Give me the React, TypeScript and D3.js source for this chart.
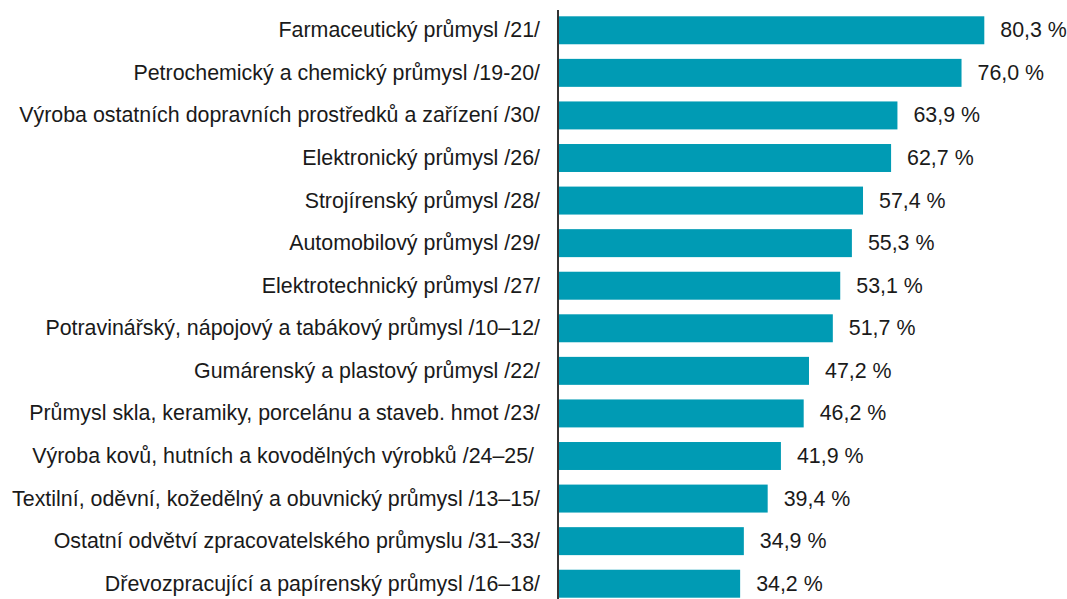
import React from "react";
import * as d3 from "d3";

const categories = [
  "Farmaceutický průmysl /21/",
  "Petrochemický a chemický průmysl /19-20/",
  "Výroba ostatních dopravních prostředků a zařízení /30/",
  "Elektronický průmysl /26/",
  "Strojírenský průmysl /28/",
  "Automobilový průmysl /29/",
  "Elektrotechnický průmysl /27/",
  "Potravinářský, nápojový a tabákový průmysl /10–12/",
  "Gumárenský a plastový průmysl /22/",
  "Průmysl skla, keramiky, porcelánu a staveb. hmot /23/",
  "Výroba kovů, hutních a kovodělných výrobků /24–25/ ",
  "Textilní, oděvní, kožedělný a obuvnický průmysl /13–15/",
  "Ostatní odvětví zpracovatelského průmyslu /31–33/",
  "Dřevozpracující a papírenský průmysl /16–18/",
];

const values = [80.3, 76.0, 63.9, 62.7, 57.4, 55.3, 53.1, 51.7, 47.2, 46.2, 41.9, 39.4, 34.9, 34.2];

const W = 1067;
const H = 599;

export default function App() {
  const x = d3.scaleLinear().domain([0, 80.3]).range([559, 984.3]);
  const y = d3
    .scaleBand<string>()
    .domain(categories)
    .range([9, 605])
    .paddingInner(0.343)
    .paddingOuter(0.1715);
  const fmt = (v: number) => d3.format(".1f")(v).replace(".", ",") + " %";
  return (
    <svg
      width={W}
      height={H}
      style={{ position: "absolute", left: 0, top: 0, background: "#fff" }}
      fontFamily="'Liberation Sans', Arial, sans-serif"
    >
      {categories.map((c, i) => {
        const yc = (y(c) as number) + y.bandwidth() / 2;
        return (
          <g key={c}>
            <rect
              x={x(0)}
              y={y(c)}
              width={x(values[i]) - x(0)}
              height={y.bandwidth()}
              fill="#009bb4"
            />
            <text
              x={540}
              y={yc}
              textAnchor="end"
              dominantBaseline="central"
              fontSize={21.4}
              fill="#1a1a1a"
              style={{ whiteSpace: "pre" }}
            >
              {c}
            </text>
            <text
              x={x(values[i]) + 16}
              y={yc}
              dominantBaseline="central"
              fontSize={21.4}
              fill="#1a1a1a"
            >
              {fmt(values[i])}
            </text>
          </g>
        );
      })}
      <line x1={558} x2={558} y1={10} y2={H} stroke="#333" strokeWidth={2} />
    </svg>
  );
}
